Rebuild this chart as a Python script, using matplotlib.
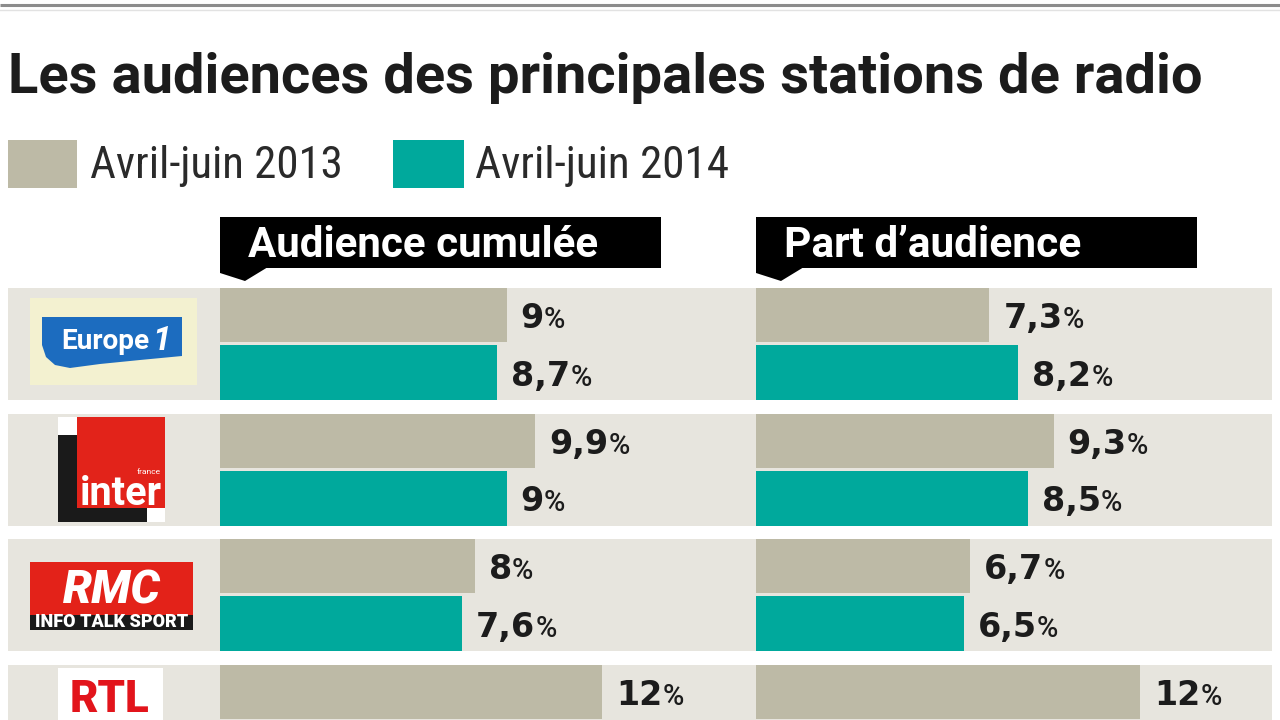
import numpy as np
import matplotlib
matplotlib.use('Agg')
import matplotlib.pyplot as plt
from matplotlib.patches import Rectangle, Polygon
import matplotlib.font_manager as fm

# ---------------- data ----------------
title = 'Les audiences des principales stations de radio'
series_labels = ['Avril-juin 2013', 'Avril-juin 2014']
panel_titles = ['Audience cumulée', 'Part d\u2019audience']
stations = ['Europe 1', 'France Inter', 'RMC', 'RTL']
cumulee_2013 = [9.0, 9.9, 8.0, 12.0]
cumulee_2014 = [8.7, 9.0, 7.6, 11.6]
part_2013 = [7.3, 9.3, 6.7, 12.0]
part_2014 = [8.2, 8.5, 6.5, 11.4]

# ---------------- style ----------------
GRAY = '#bdbaa6'
TEAL = '#00a99c'
ROWBG = '#e7e5de'
INK = '#1c1c1c'

avail = {f.name for f in fm.fontManager.ttflist}


def pick(*names):
    for n in names:
        if n in avail:
            return n
    return 'DejaVu Sans'


SANS = pick('Roboto', 'Lato', 'Open Sans', 'DejaVu Sans')
NUM = 'DejaVu Sans'
NARROW = pick('Roboto Condensed', 'Liberation Sans Narrow', 'Roboto')

W, H = 1280, 720
fig = plt.figure(figsize=(12.8, 7.2), dpi=100)
fig.patch.set_facecolor('white')
bg = fig.add_axes([0, 0, 1, 1])
bg.set_xlim(0, W)
bg.set_ylim(H, 0)
bg.axis('off')

ROW0, PITCH, ROWH = 344.0, 125.5, 112.0


def row_px(i):
    return ROW0 + PITCH * i


to_fit = []

# top rule
bg.plot([0, W], [5, 5], color='#8c8c8c', lw=2.2, solid_capstyle='butt')
bg.plot([0, W], [9.5, 9.5], color='#e2e2e2', lw=1)

# title
t = bg.text(8, 93, title, fontsize=36, fontweight='bold', color=INK,
            family=SANS, va='baseline', ha='left')
to_fit.append((t, 1195))

# legend
for (x0, x1, tx, tw), lab, col in zip([(8, 77, 90, 253), (393, 464, 475, 255)],
                                      series_labels, [GRAY, TEAL]):
    bg.add_patch(Rectangle((x0, 140), x1 - x0, 48, color=col, lw=0))
    t = bg.text(tx, 178, lab, fontsize=26, color='#2a2a2a', family=NARROW,
                fontweight='normal', va='baseline', ha='left')
    to_fit.append((t, tw))

# panel headers
for x0, x1, lab, tw in [(220, 661, panel_titles[0], 350),
                        (756, 1197, panel_titles[1], 297)]:
    bg.add_patch(Rectangle((x0, 217), x1 - x0, 51, color='black', lw=0))
    bg.add_patch(Polygon([(x0, 267), (x0, 273), (x0 + 25, 281), (x0 + 48, 267)],
                         closed=True, color='black', lw=0))
    t = bg.text(x0 + 28, 257, lab, color='white', fontweight='bold',
                family=SANS, fontsize=28, va='baseline', ha='left')
    to_fit.append((t, tw))

# row backgrounds
for i in range(len(stations)):
    c = row_px(i)
    bg.add_patch(Rectangle((8, c - ROWH / 2), 1264, ROWH, color=ROWBG, lw=0))

# ---------------- logos ----------------
# Europe 1
bg.add_patch(Rectangle((30, 298), 167, 87, color='#f3f1d0', lw=0))
bg.add_patch(Polygon([(42, 317), (182, 317), (182, 356), (140, 360), (100, 364),
                      (70, 368), (55, 365), (46, 357), (42, 345)],
                     closed=True, color='#1c6cbf', lw=0))
t = bg.text(61, 349, 'Europe', color='white', fontweight='bold', family=SANS,
            fontsize=20, va='baseline', ha='left')
to_fit.append((t, 88))
bg.text(152, 350, '1', color='white', fontweight='bold', style='italic',
        family=SANS, fontsize=24, va='baseline', ha='left')

# France Inter
bg.add_patch(Rectangle((58, 417), 19, 18, color='white', lw=0))
bg.add_patch(Rectangle((58, 435), 19, 87, color='#1a1a1a', lw=0))
bg.add_patch(Rectangle((58, 508), 89, 14, color='#1a1a1a', lw=0))
bg.add_patch(Rectangle((147, 508), 18, 14, color='white', lw=0))
bg.add_patch(Rectangle((77, 417), 88, 91, color='#e2231a', lw=0))
t = bg.text(80, 505, 'inter', color='white', fontweight='bold', family=SANS,
            fontsize=28, va='baseline', ha='left')
to_fit.append((t, 82))
bg.text(161, 474, 'france', color='white', family=SANS, fontsize=6,
        va='baseline', ha='right')

# RMC
bg.add_patch(Rectangle((30, 562), 163, 53, color='#e32219', lw=0))
bg.add_patch(Rectangle((30, 615), 163, 15, color='#1a1a1a', lw=0))
t = bg.text(112, 604, 'RMC', color='white', fontweight='heavy', style='italic',
            family=SANS, fontsize=34, va='baseline', ha='center')
to_fit.append((t, 98))
t = bg.text(112, 627, 'INFO TALK SPORT', color='white', fontweight='heavy',
            family=SANS, fontsize=8, va='baseline', ha='center')
to_fit.append((t, 154))

# RTL
bg.add_patch(Rectangle((58, 668), 105, 60, color='white', lw=0))
t = bg.text(109, 712, 'RTL', color='#e2141b', fontweight='heavy',
            family=SANS, fontsize=30, va='baseline', ha='center')
to_fit.append((t, 80))


# ---------------- bar panels ----------------
def fmt(v):
    s = f'{v:.1f}'.replace('.', ',')
    return s[:-2] if s.endswith(',0') else s


def panel(x0_px, x1_px, px_per_unit, v13, v14):
    ax = fig.add_axes([x0_px / W, 0, (x1_px - x0_px) / W, (H - 275) / H])
    ax.set_xlim(0, (x1_px - x0_px) / px_per_unit)
    ymax = (H - ROW0) / PITCH
    ax.set_ylim(ymax, (275 - ROW0) / PITCH)
    ax.axis('off')
    ax.patch.set_alpha(0)
    y = np.arange(len(stations))
    ax.barh(y - 0.229, v13, height=0.43, color=GRAY, lw=0)
    ax.barh(y + 0.229, v14, height=0.438, color=TEAL, lw=0)
    for yy, vals in [(y - 0.229, v13), (y + 0.229, v14)]:
        for yi, v in zip(yy, vals):
            if yi > ymax:
                continue  # bar lies below the visible frame
            num = ax.annotate(fmt(v), xy=(v, yi), xytext=(14, -13),
                              textcoords='offset pixels', va='baseline',
                              ha='left', fontsize=24, fontweight='bold',
                              family=NUM, color=INK)
            ax.annotate('%', xy=(1, 0), xycoords=num, xytext=(0, 1),
                        textcoords='offset pixels', va='bottom', ha='left',
                        fontsize=21, fontweight='medium', family=SANS,
                        color=INK)
    return ax


panel(220, 740, 31.85, cumulee_2013, cumulee_2014)
panel(755.5, 1272, 32.05, part_2013, part_2014)

# fit text widths
fig.canvas.draw()
r = fig.canvas.get_renderer()
for _ in range(2):
    for t, tw in to_fit:
        w = t.get_window_extent(r).width
        t.set_fontsize(t.get_fontsize() * tw / w)

fig.savefig('out.png', dpi=100, facecolor='white')
